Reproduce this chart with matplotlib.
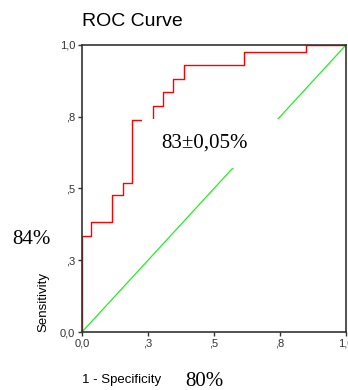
import matplotlib
matplotlib.use("Agg")
import matplotlib.pyplot as plt
from matplotlib.patches import Rectangle

# puntos de la curva ROC (1 - especificidad, sensibilidad)
fpr = [0, 0, 0.034, 0.112, 0.154, 0.190, 0.268, 0.308, 0.346, 0.386, 0.615, 0.847, 1.0]
tpr = [0, 0.334, 0.382, 0.477, 0.520, 0.739, 0.786, 0.835, 0.882, 0.929, 0.976, 1.0, 1.0]
ref_linea = [0, 1]

ticks = [0, 0.25, 0.5, 0.75, 1.0]
tick_labels = ["0,0", ",3", ",5", ",8", "1,0"]

W, H = 348, 390
fig = plt.figure(figsize=(W / 100, H / 100), dpi=100)
ax = fig.add_axes([82 / W, (H - 332) / H, 264 / W, 287 / H])

ax.plot(ref_linea, ref_linea, color="#22ee22", lw=0.9)
ax.step(fpr, tpr, where="post", color="#ff0000", lw=1.0)

# caja blanca del texto del AUC
ax.add_patch(Rectangle((0.227, 0.571), 0.56, 0.172, facecolor="white",
                       edgecolor="none", zorder=3))
ax.text(0.464, 0.641, "83±0,05%", family="Liberation Serif", fontsize=15,
        ha="center", va="baseline", zorder=4)

ax.set_xlim(0, 1)
ax.set_ylim(0, 1)
ax.set_xticks(ticks)
ax.set_xticklabels(tick_labels)
ax.set_yticks(ticks)
ax.set_yticklabels(tick_labels)
ax.tick_params(direction="out", length=3, width=1, colors="#333333",
               labelsize=8, pad=2)
for lbl in ax.get_xticklabels() + ax.get_yticklabels():
    lbl.set_family("Liberation Sans")
for sp in ax.spines.values():
    sp.set_color("#333333")
    sp.set_linewidth(1.2)

fig.text(82 / W, 1 - 21 / H, "ROC Curve", family="Liberation Sans",
         fontsize=14, ha="left", va="center")
fig.text(43.5 / W, (H - 332) / H, "Sensitivity", family="Liberation Sans",
         fontsize=9.5, rotation=90, ha="center", va="bottom")
fig.text(82 / W, 1 - 380 / H, "1 - Specificity", family="Liberation Sans",
         fontsize=9.5, ha="left", va="center")
fig.text(12 / W, 1 - 239 / H, "84%", family="Liberation Serif",
         fontsize=15, ha="left", va="center")
fig.text(185 / W, 1 - 381 / H, "80%", family="Liberation Serif",
         fontsize=15, ha="left", va="center")

fig.savefig("out.png", dpi=100)
